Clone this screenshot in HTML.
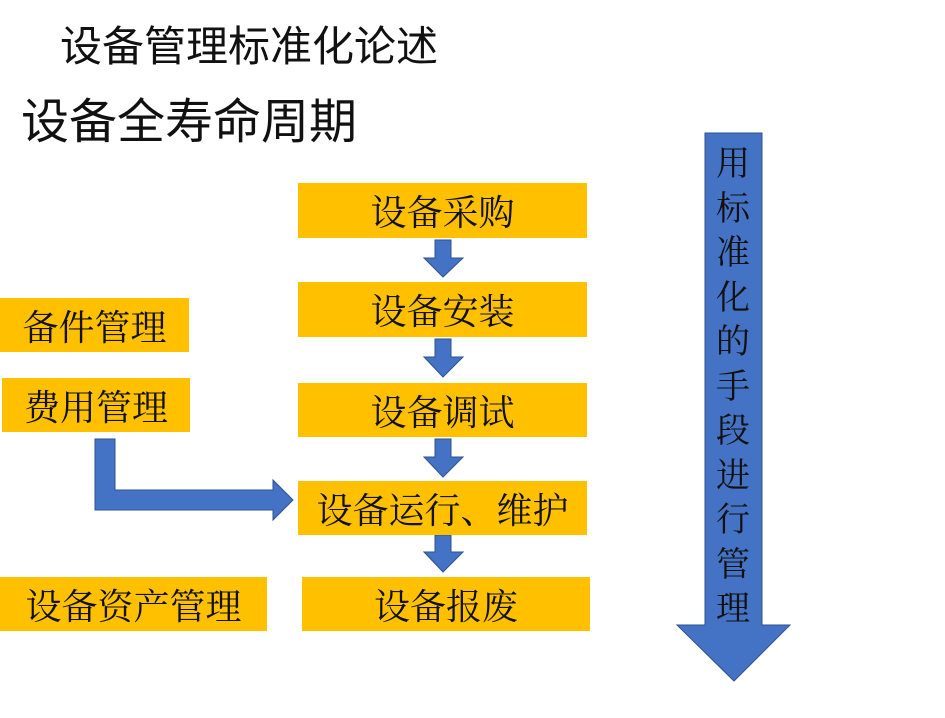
<!DOCTYPE html>
<html><head><meta charset="utf-8"><style>
body{margin:0;width:945px;height:718px;background:#fff;position:relative;overflow:hidden}
.t{position:absolute;font-family:"Liberation Sans","Noto Sans CJK SC",sans-serif;color:#111;white-space:nowrap;line-height:1}
.b{position:absolute;background:#ffc000;font-family:"Liberation Serif","Noto Serif CJK SC",serif;font-size:36px;color:#111;display:flex;align-items:center;justify-content:center;white-space:nowrap}
.v{position:absolute;left:711px;top:143px;width:44px;font-family:"Liberation Serif","Noto Serif CJK SC",serif;font-size:34px;line-height:44.5px;text-align:center;color:#111}
</style></head><body>
<div class="t" style="left:60px;top:26px;font-size:42px">设备管理标准化论述</div>
<div class="t" style="left:21px;top:99px;font-size:48px">设备全寿命周期</div>
<svg width="945" height="718" style="position:absolute;left:0;top:0">
<g fill="#4472c4" stroke="#2f528f" stroke-width="1">
<polygon points="435,240 451,240 451,258 463,258 443,277 424,258 435,258"/>
<polygon points="435,339 451,339 451,357 463,357 443,377 424,357 435,357"/>
<polygon points="435,439 451,439 451,457 463,457 443,477 424,457 435,457"/>
<polygon points="435,535 451,535 451,552 463,552 443,572 424,552 435,552"/>
<polygon points="95,439 115,439 115,490 273,490 273,480 293,500 273,520 273,510 95,510"/>
<polygon points="705,133 762,133 762,625 790,625 734,681 677,625 705,625"/>
</g></svg>
<div class="b" style="left:298px;top:183px;width:289px;height:55px">设备采购</div>
<div class="b" style="left:298px;top:282px;width:289px;height:55px">设备安装</div>
<div class="b" style="left:298px;top:383px;width:289px;height:54px">设备调试</div>
<div class="b" style="left:298px;top:481px;width:289px;height:54px">设备运行、维护</div>
<div class="b" style="left:302px;top:577px;width:288px;height:54px">设备报废</div>
<div class="b" style="left:0;top:298px;width:189px;height:54px">备件管理</div>
<div class="b" style="left:2px;top:378px;width:188px;height:54px">费用管理</div>
<div class="b" style="left:0;top:577px;width:267px;height:54px">设备资产管理</div>
<div class="v">用<br>标<br>准<br>化<br>的<br>手<br>段<br>进<br>行<br>管<br>理</div>
</body></html>
